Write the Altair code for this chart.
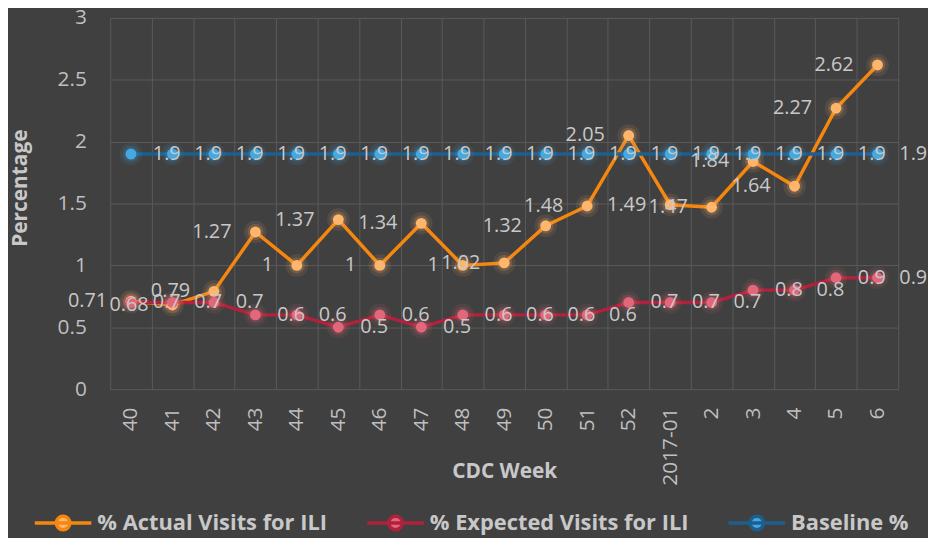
import altair as alt
import pandas as pd

weeks = ["40", "41", "42", "43", "44", "45", "46", "47", "48", "49", "50",
         "51", "52", "2017-01", "2", "3", "4", "5", "6"]
actual = [0.71, 0.68, 0.79, 1.27, 1.0, 1.37, 1.0, 1.34, 1.0, 1.02, 1.32,
          1.48, 2.05, 1.49, 1.47, 1.84, 1.64, 2.27, 2.62]
expected = [0.7, 0.7, 0.7, 0.6, 0.6, 0.5, 0.6, 0.5, 0.6, 0.6, 0.6,
            0.6, 0.7, 0.7, 0.7, 0.8, 0.8, 0.9, 0.9]
baseline = [1.9, 1.9, 1.9, 1.9, 1.9, 1.9, 1.9, 1.9, 1.9, 1.9, 1.9,
            1.9, 1.9, 1.9, 1.9, 1.9, 1.9, 1.9, 1.9]

series_names = ["% Actual Visits for ILI", "% Expected Visits for ILI", "Baseline %"]
line_colors = ["#F5860F", "#B0223C", "#1C5F8E"]
marker_colors = ["#FFB56B", "#E2677A", "#44A8E2"]

rows = []
for name, vals in zip(series_names, [actual, expected, baseline]):
    for w, v in zip(weeks, vals):
        rows.append({"week": w, "series": name, "value": v})
df = pd.DataFrame(rows)

FONT = "Open Sans"
TXT = "#c8c8c8"

W, H = 794, 374

x_enc = alt.X(
    "week:N", sort=weeks,
    scale=alt.Scale(type="band", paddingInner=0, paddingOuter=0),
    axis=alt.Axis(
        title="CDC Week", labelAngle=-90, labelPadding=18, tickBand="extent",
        titleX=W / 2, titleY=83, titleAlign="center", titleBaseline="middle",
    ),
)
y_enc = alt.Y(
    "value:Q",
    scale=alt.Scale(domain=[0, 3], nice=False),
    axis=alt.Axis(
        title="Percentage", values=[0, 0.5, 1, 1.5, 2, 2.5, 3], format="~g",
        labelPadding=24, titleX=-90, titleY=171, titleAlign="center",
        titleBaseline="middle", titleAngle=-90,
    ),
)

stroke_scale = alt.Scale(domain=series_names, range=line_colors)
fill_scale = alt.Scale(domain=series_names, range=marker_colors)

legend = alt.Legend(
    title=None, orient="none", legendX=-78, legendY=478, direction="horizontal",
    symbolType="M-1,0L1,0M0.24,0A0.24,0.24,0,1,1,-0.24,0A0.24,0.24,0,1,1,0.24,0Z",
    symbolSize=3249, symbolStrokeWidth=3.5, labelOffset=4, columnPadding=33,
    labelFont=FONT, labelFontSize=22, labelFontWeight="bold", labelColor=TXT,
    labelLimit=400, padding=0,
)

base = alt.Chart(df).encode(x=x_enc, y=y_enc)

line = base.mark_line(strokeWidth=3.5).encode(
    stroke=alt.Stroke("series:N", scale=stroke_scale, legend=legend),
)

glow1 = base.mark_circle(size=520, opacity=0.10).encode(
    color=alt.Color("series:N", scale=fill_scale, legend=None)
)
glow2 = base.mark_circle(size=260, opacity=0.18).encode(
    color=alt.Color("series:N", scale=fill_scale, legend=None)
)

points = base.mark_point(filled=True, size=120, strokeWidth=0, strokeOpacity=0, opacity=1).encode(
    fill=alt.Fill("series:N", scale=fill_scale, legend=legend),
    stroke=alt.Stroke("series:N", scale=stroke_scale, legend=legend),
)

text_left = base.transform_filter(
    alt.datum.series == series_names[0]
).mark_text(align="right", baseline="middle", dx=-24, font=FONT, fontSize=20, color=TXT).encode(
    text=alt.Text("value:Q", format="~g")
)
text_right = base.transform_filter(
    alt.datum.series != series_names[0]
).mark_text(align="left", baseline="middle", dx=22, font=FONT, fontSize=20, color=TXT).encode(
    text=alt.Text("value:Q", format="~g")
)

chart = alt.layer(line, glow1, glow2, points, text_left, text_right).resolve_scale(
    color="independent"
).properties(
    width=W, height=H,
    autosize=alt.AutoSizeParams(type="none"),
    padding={"left": 103, "top": 8, "right": 30, "bottom": 148},
    background="#404040",
).configure_view(
    stroke=None
).configure_axis(
    grid=True, gridColor="#5a5a5a", gridWidth=1, domain=False, ticks=False,
    labelFont=FONT, labelFontSize=21, labelColor="#bfbfbf",
    titleFont=FONT, titleFontSize=21, titleFontWeight="bold", titleColor=TXT,
)

chart.save("out.html", embed_options={"renderer": "svg", "actions": False})
